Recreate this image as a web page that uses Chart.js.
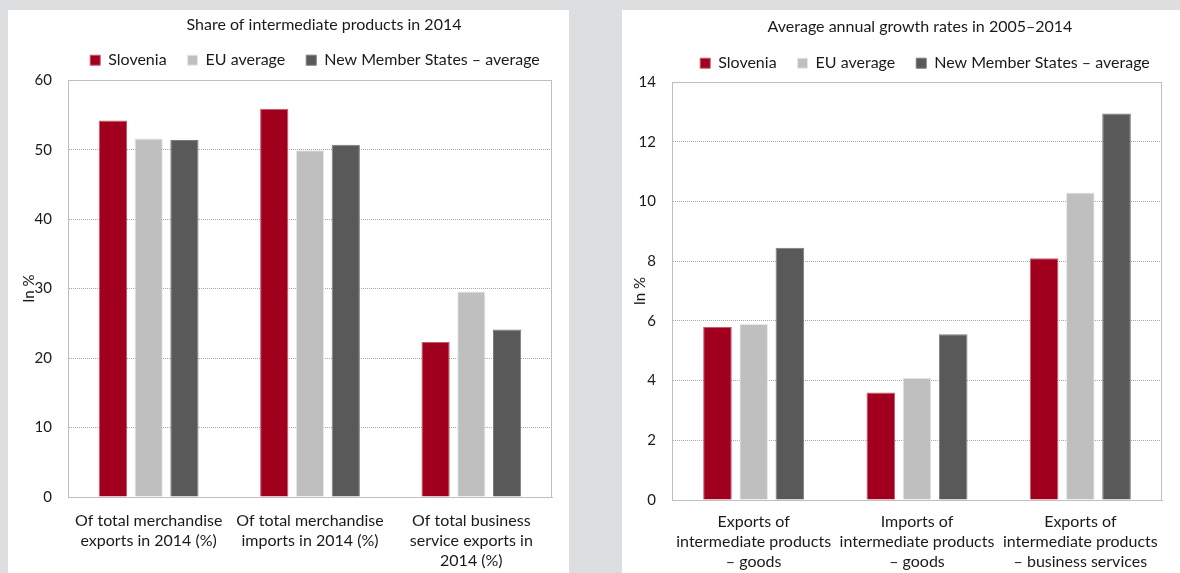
<!DOCTYPE html>
<html>
<head>
<meta charset="utf-8">
<script src="https://cdn.jsdelivr.net/npm/chart.js@4/dist/chart.umd.min.js"></script>
<style>
  body { margin: 0; width: 1180px; height: 573px; overflow: hidden; position: relative; background: #dddee0; }
  .panel { position: absolute; background: #fff; }
</style>
</head>
<body>
<div class="panel" style="left:8px;top:10px;width:561px;height:563px"><canvas id="shareChart"></canvas></div>
<div class="panel" style="left:622px;top:10px;width:558px;height:563px"><canvas id="growthChart"></canvas></div>
<script>
// series names and colours
const seriesNames = ['Slovenia', 'EU average', 'New Member States – average'];
const seriesColors = ['#a0001e', '#bfbfbf', '#595959'];
const seriesEdges = ['#c45a6e', '#e8e8e8', '#7a7a7a'];

// left chart: share of intermediate products in 2014 (%)
const shareLabels = [
  ['Of total merchandise', 'exports in 2014 (%)'],
  ['Of total merchandise', 'imports in 2014 (%)'],
  ['Of total business', 'service exports in', '2014 (%)']
];
const shareSlovenia = [54.2, 55.9, 22.3];
const shareEU = [51.6, 49.9, 29.6];
const shareNMS = [51.4, 50.7, 24.1];

// right chart: average annual growth rates 2005–2014 (%)
const growthLabels = [
  ['Exports of', 'intermediate products', '– goods'],
  ['Imports of', 'intermediate products', '– goods'],
  ['Exports of', 'intermediate products', '– business services']
];
const growthSlovenia = [5.8, 3.6, 8.1];
const growthEU = [5.9, 4.1, 10.3];
const growthNMS = [8.45, 5.55, 12.95];

Chart.defaults.font.family = 'Lato, "Noto Sans", sans-serif';
Chart.defaults.color = '#1a1a1a';

// moves title / legend after layout so they sit where Excel put them
const blockShift = {
  id: 'blockShift',
  afterLayout(chart, args, opts) {
    const move = (box, d) => {
      if (!box || !d) return;
      box.left += d[0]; box.right += d[0];
      box.top += d[1]; box.bottom += d[1];
    };
    move(chart.titleBlock, opts.title);
    move(chart.legend, opts.legend);
  }
};

// solid frame on top and right of the plot area
const plotFrame = {
  id: 'plotFrame',
  beforeDatasetsDraw(chart, args, opts) {
    const { ctx, chartArea: a } = chart;
    const top = Math.round(a.top) + 0.5;
    const right = Math.round(a.right) - 0.5;
    ctx.save();
    ctx.strokeStyle = opts.color || '#bfbfbf';
    ctx.lineWidth = 1;
    ctx.beginPath();
    ctx.moveTo(a.left, top);
    ctx.lineTo(right, top);
    ctx.lineTo(right, a.bottom);
    ctx.stroke();
    ctx.restore();
  }
};

function makeDatasets(values) {
  return values.map((data, i) => ({
    label: seriesNames[i],
    data: data,
    backgroundColor: seriesColors[i],
    borderColor: seriesEdges[i],
    borderWidth: 1,
    categoryPercentage: 0.665,
    barPercentage: 0.79
  }));
}

function buildChart(id, cfg) {
  const ctx = document.getElementById(id).getContext('2d');
  return new Chart(ctx, {
    type: 'bar',
    data: {
      labels: cfg.labels,
      datasets: makeDatasets(cfg.values)
    },
    options: {
      responsive: true,
      maintainAspectRatio: false,
      animation: false,
      layout: { padding: cfg.padding },
      plugins: {
        title: {
          display: true,
          text: cfg.title,
          color: '#1a1a1a',
          font: { size: 16, weight: 'normal' },
          padding: 0
        },
        legend: {
          labels: {
            boxWidth: 10,
            boxHeight: 10,
            padding: 21,
            font: { size: 16 },
            color: '#1a1a1a'
          }
        },
        tooltip: { enabled: false },
        blockShift: cfg.shift,
        plotFrame: { color: '#bfbfbf' }
      },
      scales: {
        x: {
          grid: { display: false, drawTicks: false },
          border: { display: true, color: '#bfbfbf', width: 1 },
          ticks: {
            autoSkip: false,
            maxRotation: 0,
            padding: cfg.xPad,
            color: '#1a1a1a',
            font: { size: 16, lineHeight: 1.25 }
          },
          afterFit: scale => { scale.height = cfg.xHeight; }
        },
        y: {
          min: 0,
          max: cfg.max,
          ticks: {
            stepSize: cfg.step,
            padding: 16,
            color: '#1a1a1a',
            font: { size: 15 }
          },
          grid: { color: '#a6a6a6', lineWidth: 1, drawTicks: false },
          border: { display: true, color: '#bfbfbf', width: 1, dash: [1, 1] },
          title: {
            display: true,
            text: 'In %',
            color: '#1a1a1a',
            font: { size: 15 },
            padding: { top: cfg.yTitlePad, bottom: 0 }
          },
          afterFit: scale => { scale.width = cfg.yWidth; }
        }
      }
    },
    plugins: [blockShift, plotFrame]
  });
}

document.addEventListener('DOMContentLoaded', () => {
  buildChart('shareChart', {
    title: 'Share of intermediate products in 2014',
    labels: shareLabels,
    values: [shareSlovenia, shareEU, shareNMS],
    max: 60,
    step: 10,
    padding: { top: 4, right: 17, bottom: 0, left: 0 },
    yWidth: 60,
    xHeight: 76,
    xPad: 14,
    yTitlePad: 12,
    shift: { title: [44, 1], legend: [35, -2] }
  });

  buildChart('growthChart', {
    title: 'Average annual growth rates in 2005–2014',
    labels: growthLabels,
    values: [growthSlovenia, growthEU, growthNMS],
    max: 14,
    step: 2,
    padding: { top: 6, right: 18, bottom: 0, left: 0 },
    yWidth: 50,
    xHeight: 73,
    xPad: 12,
    yTitlePad: 9,
    shift: { title: [28, 1], legend: [33, -1] }
  });
});
</script>
</body>
</html>
